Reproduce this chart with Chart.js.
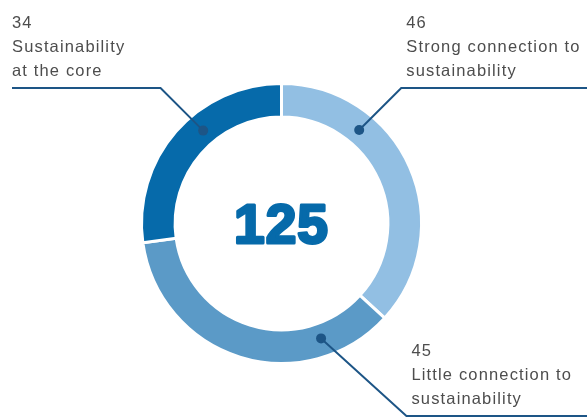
<!DOCTYPE html>
<html>
<head>
<meta charset="utf-8">
<script src="https://cdn.jsdelivr.net/npm/chart.js@4"></script>
<style>
  html, body { margin: 0; padding: 0; background: #fff; }
  canvas { display: block; }
</style>
</head>
<body>
<canvas id="anel" width="587" height="418"></canvas>
<script>
// fatias no sentido horário a partir do topo
const categorias = [
  ['Strong connection to', 'sustainability'],
  ['Little connection to', 'sustainability'],
  ['Sustainability', 'at the core']
];
const valores = [46, 45, 34];
const cores = ['#92bfe3', '#5b9ac7', '#066aaa'];

const total = valores.reduce((a, b) => a + b, 0);

// onde cada linha de chamada sai do anel e onde dobra
const chamadas = [
  { frac: 0.30, dobraY: 88, inclinacao: 1.0, lado: 'direita' },
  { frac: 0.22, dobraY: 416, inclinacao: 1.1, lado: 'direita' },
  { frac: 0.59, dobraY: 88, inclinacao: 1.0, lado: 'esquerda' }
];

const corLinha = '#1d5586';
const corTexto = '#4d4d4d';

const rotulos = {
  id: 'rotulos',
  afterDraw(chart) {
    const ctx = chart.ctx;
    const meta = chart.getDatasetMeta(0);
    ctx.save();
    meta.data.forEach((arc, i) => {
      const c = chamadas[i];
      const p = arc.getProps(['x', 'y', 'startAngle', 'endAngle', 'innerRadius', 'outerRadius'], true);
      const ang = p.startAngle + c.frac * (p.endAngle - p.startAngle);
      const r = p.innerRadius + 0.45 * (p.outerRadius - p.innerRadius);
      const px = p.x + r * Math.cos(ang);
      const py = p.y + r * Math.sin(ang);
      const dir = c.lado === 'direita' ? 1 : -1;
      const ex = px + dir * Math.abs(c.dobraY - py) * c.inclinacao;
      const fimX = c.lado === 'direita' ? chart.width : 12;

      ctx.strokeStyle = corLinha;
      ctx.lineWidth = 2;
      ctx.beginPath();
      ctx.moveTo(px, py);
      ctx.lineTo(ex, c.dobraY);
      ctx.lineTo(fimX, c.dobraY);
      ctx.stroke();

      ctx.fillStyle = corLinha;
      ctx.beginPath();
      ctx.arc(px, py, 5, 0, Math.PI * 2);
      ctx.fill();

      // valor + descrição, última linha 12px acima da linha horizontal
      const linhas = [String(valores[i])].concat(categorias[i]);
      const tx = c.lado === 'direita' ? ex + 5 : fimX;
      ctx.fillStyle = corTexto;
      ctx.font = '16.5px "Liberation Sans", Arial, sans-serif';
      ctx.letterSpacing = '1.15px';
      ctx.textAlign = 'left';
      ctx.textBaseline = 'alphabetic';
      linhas.forEach((t, k) => {
        ctx.fillText(t, tx, c.dobraY - 12 - (linhas.length - 1 - k) * 24);
      });
    });

    // total no centro
    const centro = meta.data[0];
    ctx.letterSpacing = '1px';
    ctx.font = 'bold 55px "Liberation Sans", Arial, sans-serif';
    ctx.textAlign = 'center';
    ctx.fillStyle = cores[2];
    ctx.strokeStyle = cores[2];
    ctx.lineWidth = 3;
    ctx.lineJoin = 'round';
    ctx.fillText(String(total), centro.x, centro.y + 19);
    ctx.strokeText(String(total), centro.x, centro.y + 19);
    ctx.restore();
  }
};

new Chart(document.getElementById('anel'), {
  type: 'doughnut',
  data: {
    labels: categorias.map(l => l.join(' ')),
    datasets: [{
      data: valores,
      backgroundColor: cores,
      borderColor: '#ffffff',
      borderWidth: 3,
      hoverOffset: 0
    }]
  },
  options: {
    responsive: false,
    animation: false,
    cutout: '76%',
    layout: {
      padding: { left: 140, right: 164, top: 82, bottom: 53 }
    },
    plugins: {
      legend: { display: false },
      tooltip: { enabled: false }
    },
    events: []
  },
  plugins: [rotulos]
});
</script>
</body>
</html>
